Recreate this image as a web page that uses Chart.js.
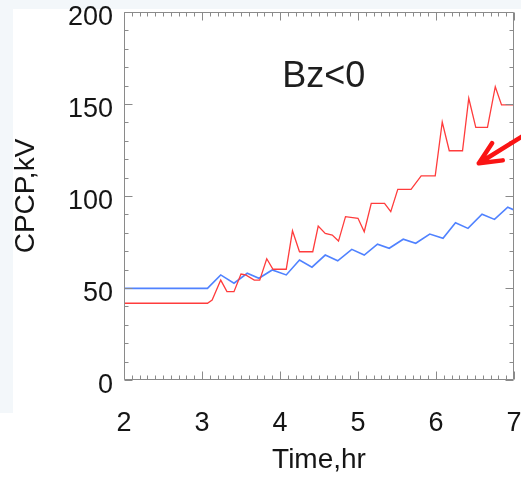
<!DOCTYPE html>
<html><head><meta charset="utf-8">
<script src="https://cdn.jsdelivr.net/npm/chart.js@4.4.0/dist/chart.umd.min.js"></script>
<style>
html,body{margin:0;padding:0;background:#fff;}
#wrap{position:relative;width:521px;height:479px;overflow:hidden;}
#topstrip{position:absolute;left:0;top:0;width:521px;height:9px;background:#f3f7fa;}
#leftstrip{position:absolute;left:0;top:0;width:13px;height:413px;background:#f3f7fa;}
canvas{position:absolute;left:0;top:0;}
</style></head><body>
<div id="wrap"><div id="topstrip"></div><div id="leftstrip"></div><canvas id="c" width="521" height="479"></canvas></div>
<script>
// ---- data ----
const redTime   = [2.00, 3.07, 3.13, 3.24, 3.32, 3.41, 3.50, 3.56, 3.67, 3.74, 3.83, 3.91, 4.08, 4.16, 4.25, 4.42, 4.49, 4.58, 4.67, 4.75, 4.84, 5.00, 5.08, 5.17, 5.34, 5.42, 5.51, 5.68, 5.81, 5.99, 6.08, 6.17, 6.34, 6.42, 6.51, 6.66, 6.76, 6.84, 7.00];
const redValues = [41.7, 41.7, 43.5, 54.3, 48.0, 48.0, 57.6, 57.1, 54.3, 54.3, 65.9, 60.2, 60.2, 81.1, 69.7, 69.7, 83.7, 79.7, 78.8, 75.5, 88.8, 87.9, 80.6, 96.0, 96.0, 91.5, 103.6, 103.6, 110.9, 110.9, 140.2, 124.6, 124.6, 153.1, 137.3, 137.3, 159.4, 149.5, 149.5];
const blueTime   = [2.00, 3.07, 3.24, 3.41, 3.58, 3.73, 3.90, 4.08, 4.25, 4.41, 4.58, 4.74, 4.92, 5.08, 5.25, 5.40, 5.58, 5.74, 5.92, 6.09, 6.25, 6.41, 6.59, 6.75, 6.92, 7.00];
const blueValues = [49.8, 49.8, 57.1, 52.6, 58.0, 55.3, 59.8, 57.1, 65.2, 61.3, 67.9, 64.8, 71.0, 67.9, 73.8, 71.6, 76.5, 74.3, 79.3, 77.0, 85.5, 82.4, 90.1, 87.3, 93.9, 92.4];
const xTicks = [2, 3, 4, 5, 6, 7];
const yTicks = [0, 50, 100, 150, 200];
const xLabel = 'Time,hr';
const yLabel = 'CPCP,kV';
const panelLabel = 'Bz<0';
const panelLabelPos = {x: 4.56, y: 159.2};
const arrowTip = {x: 6.55, y: 117.8};
const arrowTail = {x: 7.10, y: 132.3};

const FONT = "'Liberation Sans', Arial, Helvetica, sans-serif";

const pts = (xs, ys) => xs.map((x, i) => ({x: x, y: ys[i]}));

const framePlugin = {
  id: 'frame',
  afterDatasetsDraw(chart) {
    const ctx = chart.ctx, a = chart.chartArea;
    const xs = chart.scales.x, ys = chart.scales.y;
    ctx.save();
    ctx.strokeStyle = '#8a8a8a';
    ctx.lineWidth = 1;
    ctx.beginPath();
    const L = Math.round(a.left) + 0.5, R = Math.round(a.right) - 0.5;
    const T = Math.round(a.top) + 0.5, B = Math.round(a.bottom) - 0.5;
    ctx.rect(L, T, R - L, B - T);
    for (let i = 0; i <= 50; i++) {
      const v = 2 + i * 0.1;
      const px = Math.round(xs.getPixelForValue(v)) + 0.5;
      const len = (i % 10 === 0) ? 8 : 4;
      ctx.moveTo(px, B); ctx.lineTo(px, B - len);
      ctx.moveTo(px, T); ctx.lineTo(px, T + len);
    }
    for (let i = 0; i <= 20; i++) {
      const v = i * 10;
      const py = Math.round(ys.getPixelForValue(v)) + 0.5;
      const len = (i % 5 === 0) ? 8 : 4;
      ctx.moveTo(L, py); ctx.lineTo(L + len, py);
      ctx.moveTo(R, py); ctx.lineTo(R - len, py);
    }
    ctx.stroke();
    ctx.restore();
  },
  afterDraw(chart) {
    const ctx = chart.ctx;
    const xs = chart.scales.x, ys = chart.scales.y;
    ctx.save();
    ctx.fillStyle = '#1e1e1e';
    ctx.font = '36px ' + FONT;
    ctx.textAlign = 'center';
    ctx.textBaseline = 'alphabetic';
    ctx.fillText(panelLabel, xs.getPixelForValue(panelLabelPos.x), ys.getPixelForValue(panelLabelPos.y));
    const tx = xs.getPixelForValue(arrowTip.x), ty = ys.getPixelForValue(arrowTip.y);
    const sx = xs.getPixelForValue(arrowTail.x), sy = ys.getPixelForValue(arrowTail.y);
    const ang = Math.atan2(sy - ty, sx - tx);
    const hl = 24, ha = 25 * Math.PI / 180;
    ctx.strokeStyle = 'rgb(250,20,20)';
    ctx.lineWidth = 4.5;
    ctx.lineCap = 'round';
    ctx.lineJoin = 'round';
    ctx.beginPath();
    ctx.moveTo(sx, sy); ctx.lineTo(tx, ty);
    ctx.moveTo(tx + hl * Math.cos(ang - ha), ty + hl * Math.sin(ang - ha));
    ctx.lineTo(tx, ty);
    ctx.lineTo(tx + hl * Math.cos(ang + ha), ty + hl * Math.sin(ang + ha));
    ctx.stroke();
    ctx.restore();
  }
};

new Chart(document.getElementById('c'), {
  type: 'line',
  data: {
    datasets: [
      {data: pts(redTime, redValues), borderColor: 'rgb(255,60,60)', borderWidth: 1.3, pointRadius: 0, tension: 0, fill: false},
      {data: pts(blueTime, blueValues), borderColor: 'rgb(80,130,255)', borderWidth: 1.6, pointRadius: 0, tension: 0, fill: false}
    ]
  },
  options: {
    responsive: false,
    animation: false,
    events: [],
    layout: {padding: {top: 12, right: 7, left: 0, bottom: 0}},
    plugins: {legend: {display: false}, tooltip: {enabled: false}},
    scales: {
      x: {
        type: 'linear', position: 'bottom', min: 2, max: 7,
        afterBuildTicks: s => { s.ticks = xTicks.map(v => ({value: v})); },
        afterFit: s => { s.height = 99; s.paddingLeft = 0; s.paddingRight = 0; },
        grid: {display: false, drawTicks: false},
        border: {display: false},
        ticks: {font: {size: 27, family: FONT}, color: '#151515', padding: 27, maxRotation: 0, autoSkip: false},
        title: {display: true, text: xLabel, font: {size: 28, family: FONT}, color: '#151515', padding: {top: 0, bottom: 2}}
      },
      y: {
        type: 'linear', position: 'left', min: 0, max: 200,
        afterBuildTicks: s => { s.ticks = yTicks.map(v => ({value: v})); },
        afterFit: s => { s.width = 124; s.paddingTop = 0; s.paddingBottom = 0; },
        grid: {display: false, drawTicks: false},
        border: {display: false},
        ticks: {font: {size: 27, family: FONT}, color: '#151515', padding: 11, labelOffset: 6},
        title: {display: true, text: yLabel, font: {size: 28, family: FONT}, color: '#151515', padding: {top: 9, bottom: 0}}
      }
    }
  },
  plugins: [framePlugin]
});
</script>
</body></html>
